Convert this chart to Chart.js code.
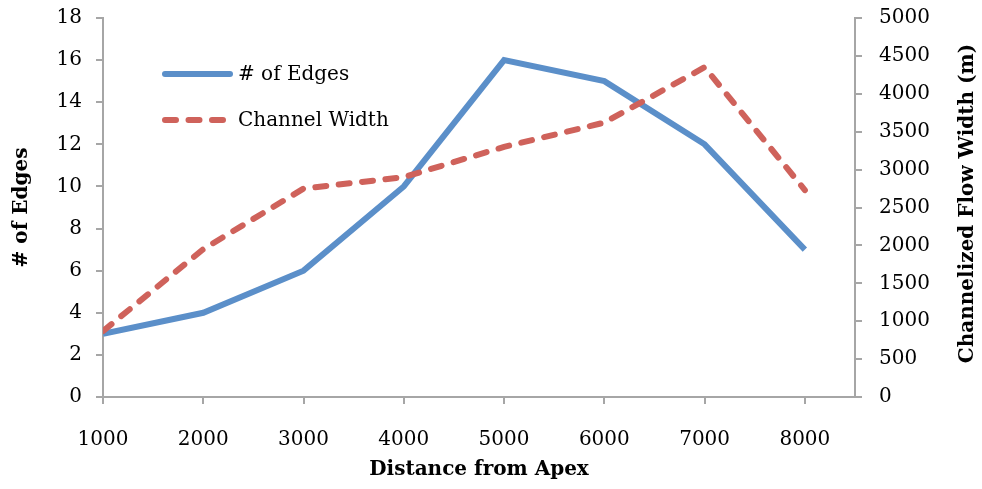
<!DOCTYPE html>
<html>
<head>
<meta charset="utf-8">
<script src="https://cdn.jsdelivr.net/npm/chart.js@4/dist/chart.umd.min.js"></script>
<style>
  html, body { margin: 0; padding: 0; background: #ffffff; }
  #wrap { width: 982px; height: 489px; }
</style>
</head>
<body>
<div id="wrap"><canvas id="c" width="982" height="489"></canvas></div>
<script>
// Distance from the apex (x) and the two measured series
const distances = [1000, 2000, 3000, 4000, 5000, 6000, 7000, 8000];
const edgeCounts = [3, 4, 6, 10, 16, 15, 12, 7];
const channelWidths = [870, 1950, 2750, 2900, 3300, 3620, 4350, 2730];

const seriesNames = ['# of Edges', 'Channel Width'];
const xTitle = 'Distance from Apex';
const yLeftTitle = '# of Edges';
const yRightTitle = 'Channelized Flow Width (m)';

const BLUE = '#5b8fc9';
const RED = '#cf625b';
const AXIS = '#a6a6a6';
const FONT = '"DejaVu Serif", "Liberation Serif", serif';
const LINE_W = 6;
const DASH = [11, 12.5];

const toPoints = (xs, ys) => xs.map((x, i) => ({ x: x, y: ys[i] }));
const plainNumber = v => String(v);

// fixed axis sizes; no extra label overflow padding
const fixWidth = w => scale => {
  scale.width = w;
  scale.paddingTop = 0;
  scale.paddingBottom = 0;
};

// Legend and rotated axis titles drawn on top of the chart
const decorations = {
  id: 'decorations',
  afterDraw(chart) {
    const ctx = chart.ctx;
    const area = chart.chartArea;
    ctx.save();

    // legend inside the plot, upper left
    const rows = [
      { y: 74, color: BLUE, dash: [], name: seriesNames[0] },
      { y: 120, color: RED, dash: DASH, name: seriesNames[1] }
    ];
    rows.forEach(r => {
      ctx.beginPath();
      ctx.setLineDash(r.dash);
      ctx.lineCap = 'round';
      ctx.lineWidth = LINE_W;
      ctx.strokeStyle = r.color;
      ctx.moveTo(165, r.y);
      ctx.lineTo(230, r.y);
      ctx.stroke();
      ctx.setLineDash([]);
      ctx.fillStyle = '#000';
      ctx.font = '20px ' + FONT;
      ctx.textAlign = 'left';
      ctx.textBaseline = 'middle';
      ctx.fillText(r.name, 238, r.y + 1);
    });

    // axis titles
    ctx.fillStyle = '#000';
    ctx.font = 'bold 20px ' + FONT;
    ctx.textAlign = 'center';
    ctx.textBaseline = 'middle';
    const midY = (area.top + area.bottom) / 2;

    ctx.fillText(xTitle, (area.left + area.right) / 2, 470);

    ctx.save();
    ctx.translate(22, midY);
    ctx.rotate(-Math.PI / 2);
    ctx.fillText(yLeftTitle, 0, 0);
    ctx.restore();

    ctx.save();
    ctx.translate(968, midY - 4);
    ctx.rotate(-Math.PI / 2);
    ctx.fillText(yRightTitle, 0, 0);
    ctx.restore();

    ctx.restore();
  }
};

new Chart(document.getElementById('c'), {
  type: 'line',
  data: {
    datasets: [
      {
        label: seriesNames[0],
        data: toPoints(distances, edgeCounts),
        yAxisID: 'yLeft',
        borderColor: BLUE,
        backgroundColor: BLUE,
        borderWidth: LINE_W,
        pointRadius: 0,
        tension: 0,
        borderJoinStyle: 'miter',
        order: 2
      },
      {
        label: seriesNames[1],
        data: toPoints(distances, channelWidths),
        yAxisID: 'yRight',
        borderColor: RED,
        backgroundColor: RED,
        borderWidth: LINE_W,
        borderDash: DASH,
        borderCapStyle: 'round',
        pointRadius: 0,
        tension: 0,
        order: 1
      }
    ]
  },
  options: {
    responsive: false,
    animation: false,
    events: [],
    layout: { padding: { top: 18, left: 0, right: 0, bottom: 0 } },
    plugins: {
      legend: { display: false },
      tooltip: { enabled: false },
      title: { display: false }
    },
    scales: {
      x: {
        type: 'linear',
        min: 1000,
        max: 8500,
        afterBuildTicks(scale) {
          scale.ticks = distances.map(v => ({ value: v }));
        },
        afterFit(scale) {
          scale.height = 92;
          scale.paddingLeft = 0;
          scale.paddingRight = 0;
        },
        border: { color: AXIS, width: 2 },
        grid: { drawOnChartArea: false, drawTicks: true, tickLength: 7, color: AXIS, lineWidth: 2 },
        ticks: {
          color: '#000',
          font: { family: FONT, size: 20 },
          padding: 24,
          maxRotation: 0,
          autoSkip: false,
          callback: plainNumber
        }
      },
      yLeft: {
        type: 'linear',
        position: 'left',
        min: 0,
        max: 18,
        afterFit: fixWidth(103),
        border: { color: AXIS, width: 2 },
        grid: { drawOnChartArea: false, drawTicks: true, tickLength: 7, color: AXIS, lineWidth: 2 },
        ticks: {
          stepSize: 2,
          color: '#000',
          font: { family: FONT, size: 20 },
          padding: 14,
          callback: plainNumber
        }
      },
      yRight: {
        type: 'linear',
        position: 'right',
        min: 0,
        max: 5000,
        afterFit: fixWidth(127),
        border: { color: AXIS, width: 2 },
        grid: { drawOnChartArea: false, drawTicks: true, tickLength: 7, color: AXIS, lineWidth: 2 },
        ticks: {
          stepSize: 500,
          color: '#000',
          font: { family: FONT, size: 20 },
          padding: 17,
          callback: plainNumber
        }
      }
    }
  },
  plugins: [decorations]
});
</script>
</body>
</html>
